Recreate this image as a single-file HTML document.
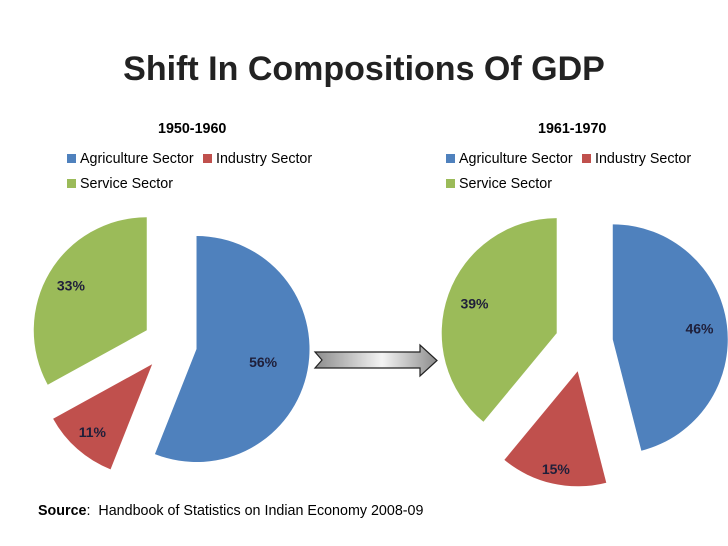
<!DOCTYPE html>
<html><head><meta charset="utf-8"><style>
body{margin:0;background:#fff;font-family:"Liberation Sans",sans-serif}
#wrap{position:relative;width:728px;height:546px;overflow:hidden}
.t{position:absolute;font-size:14.3px;color:#000;white-space:nowrap}
.sq{display:inline-block;width:9px;height:9px;margin-right:4px;vertical-align:0}
</style></head><body>
<div id="wrap">
<div class="t" style="left:0;width:728px;text-align:center;top:50px;font-size:34px;font-weight:bold;color:#222">Shift In Compositions Of GDP</div>
<div class="t" style="left:158px;top:121px;font-weight:bold">1950-1960</div>
<div class="t" style="left:538px;top:121px;font-weight:bold">1961-1970</div>
<div class="t" style="left:67px;top:151px"><span class="sq" style="background:#4f81bd"></span>Agriculture Sector</div>
<div class="t" style="left:203px;top:151px"><span class="sq" style="background:#c0504d"></span>Industry Sector</div>
<div class="t" style="left:67px;top:176px"><span class="sq" style="background:#9bbb59"></span>Service Sector</div>
<div class="t" style="left:446px;top:151px"><span class="sq" style="background:#4f81bd"></span>Agriculture Sector</div>
<div class="t" style="left:582px;top:151px"><span class="sq" style="background:#c0504d"></span>Industry Sector</div>
<div class="t" style="left:446px;top:176px"><span class="sq" style="background:#9bbb59"></span>Service Sector</div>
<div class="t" style="left:38px;top:503px"><b>Source</b>:&nbsp; Handbook of Statistics on Indian Economy 2008-09</div>
<svg id="svg" width="728" height="546" style="position:absolute;left:0;top:0">
<defs><linearGradient id="ag" x1="0" x2="1" y1="0" y2="0">
<stop offset="0" stop-color="#8c8c8c"/><stop offset="0.55" stop-color="#f4f4f4"/><stop offset="1" stop-color="#8c8c8c"/></linearGradient></defs>
<path d="M315,352 L420,352 L420,345 L437,360.5 L420,376 L420,368 L315,368 L322,360 Z" fill="url(#ag)" stroke="#222" stroke-width="1.2"/>
</svg>
</div>
<script>
const categories=["Agriculture Sector","Industry Sector","Service Sector"];
const values1950=[56,11,33];
const values1961=[46,15,39];
const colors=["#4f81bd","#c0504d","#9bbb59"];
const svg=document.getElementById('svg');
const NS="http://www.w3.org/2000/svg";
function pie(vals,cx,cy,r,d,labelPos,tag){
  const tot=vals.reduce((a,b)=>a+b,0);let a0=0;
  vals.forEach((v,i)=>{
    const a1=a0+v/tot*2*Math.PI,m=(a0+a1)/2;
    const ox=cx+d*Math.sin(m),oy=cy-d*Math.cos(m);
    const p=(a)=>[ox+r*Math.sin(a),oy-r*Math.cos(a)];
    const [x0,y0]=p(a0),[x1,y1]=p(a1);
    const path=document.createElementNS(NS,'path');
    path.setAttribute('d',`M${ox},${oy}L${x0},${y0}A${r},${r} 0 ${a1-a0>Math.PI?1:0} 1 ${x1},${y1}Z`);
    path.setAttribute('fill',colors[i]);
    
    
    svg.appendChild(path);
    const lr=r*labelPos[i];
    const t=document.createElementNS(NS,'text');
    t.setAttribute('x',ox+lr*Math.sin(m));t.setAttribute('y',oy-lr*Math.cos(m)+5);
    t.setAttribute('text-anchor','middle');t.setAttribute('font-weight','bold');
    t.setAttribute('font-size','14');t.setAttribute('fill','#1f1f3a');
    t.setAttribute('font-family','Liberation Sans, sans-serif');
    t.textContent=v+'%';
    
    
    svg.appendChild(t);
    a0=a1;
  });
}
pie(values1950,170,344,113,27,[0.6,0.8,0.78],'pie-1950');
pie(values1961,584,343,115,29,[0.76,0.87,0.76],'pie-1961');
</script>
</body></html>
